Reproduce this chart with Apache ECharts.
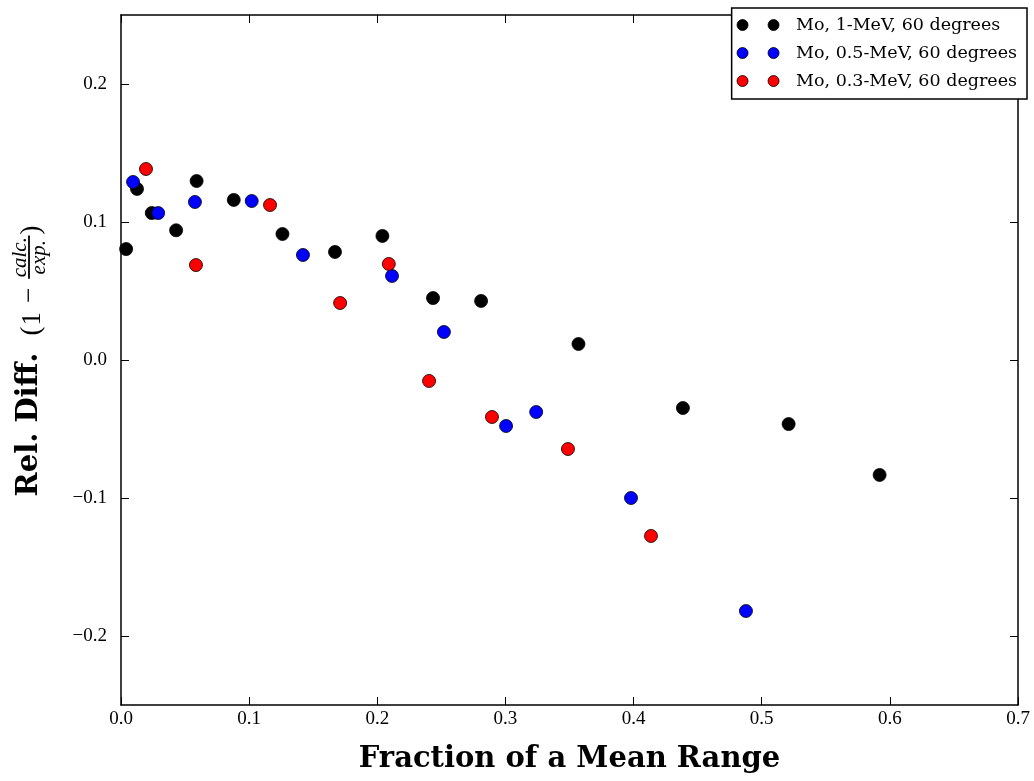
<!DOCTYPE html>
<html><head><meta charset="utf-8">
<script src="https://cdn.jsdelivr.net/npm/echarts@6/dist/echarts.min.js"></script>
<style>html,body{margin:0;padding:0;background:#fff}#c{width:1034px;height:781px}</style>
</head><body><div id="c"></div>
<script>
const seriesNames = ['Mo, 1-MeV, 60 degrees','Mo, 0.5-MeV, 60 degrees','Mo, 0.3-MeV, 60 degrees'];
const seriesColors = ['#000000','#0000ff','#ff0000'];
const x1MeV = [0.004,0.0125,0.024,0.043,0.059,0.088,0.126,0.167,0.204,0.2435,0.281,0.357,0.4385,0.521,0.592];
const y1MeV = [0.0804,0.124,0.1065,0.094,0.1297,0.116,0.0913,0.0783,0.0899,0.0449,0.0428,0.0116,-0.0348,-0.0464,-0.0833];
const x05MeV = [0.0094,0.029,0.0577,0.102,0.142,0.2115,0.252,0.3005,0.324,0.398,0.4877];
const y05MeV = [0.129,0.1065,0.1145,0.1152,0.0761,0.0609,0.0203,-0.0478,-0.0377,-0.1,-0.1819];
const x03MeV = [0.0195,0.0585,0.1163,0.171,0.209,0.2404,0.2895,0.3488,0.4136];
const y03MeV = [0.1384,0.0688,0.1123,0.0413,0.0696,-0.0152,-0.0413,-0.0645,-0.1275];
const xTicks = [0,0.1,0.2,0.3,0.4,0.5,0.6,0.7];
const yTicks = [-0.2,-0.1,0,0.1,0.2];
const xTitle = 'Fraction of a Mean Range';
const yTitleParts = ['Rel. Diff.', '(', '1', '\u2212', 'calc.', 'exp.', ')'];

const xs = [x1MeV,x05MeV,x03MeV], ys=[y1MeV,y05MeV,y03MeV];
const fmt = v => (Math.round(v*10)/10).toFixed(1).replace('-','\u2212');
const serif = '"Liberation Serif", "DejaVu Serif", serif';
const boldSerif = '"DejaVu Serif", serif';

// layout of the y-axis title (rotated group)
const ctx = document.createElement('canvas').getContext('2d');
function tw(t, f){ ctx.font = f; return ctx.measureText(t).width; }
const fB = 'bold 29px "DejaVu Serif"', fM = '27px "Liberation Serif"', fF = 'italic 21px "Liberation Serif"';
// [text, font, gapBefore, crossOffset]
const pieces = [
  [yTitleParts[0], fB, 0, 0],
  [yTitleParts[1], fM, 17, 3],
  [yTitleParts[2], fM, 1, 4],
  [yTitleParts[3], fM, 9, 1],
];
const kids = [];
let widths = pieces.map(p => tw(p[0], p[1]));
const wC = tw(yTitleParts[4], fF), wE = tw(yTitleParts[5], fF);
const wFr = Math.max(wC, wE) + 3;
const wP = tw(yTitleParts[6], fM);
const gFr = 9, gP = 1;
let total = 0;
pieces.forEach((p,i)=>{ total += p[2] + widths[i]; });
total += gFr + wFr + gP + wP;
let cx = -total/2;
pieces.forEach((p,i)=>{
  cx += p[2];
  kids.push({type:'text', x:cx, y:p[3], style:{text:p[0], font:p[1], fill:'#000', textAlign:'left', textVerticalAlign:'middle'}});
  cx += widths[i];
});
cx += gFr;
kids.push({type:'text', x:cx + wFr/2, y:-9, style:{text:yTitleParts[4], font:fF, fill:'#000', textAlign:'center', textVerticalAlign:'middle'}});
kids.push({type:'rect', shape:{x:cx, y:-0.9, width:wFr, height:1.8}, style:{fill:'#000'}});
kids.push({type:'text', x:cx + wFr/2, y:10, style:{text:yTitleParts[5], font:fF, fill:'#000', textAlign:'center', textVerticalAlign:'middle'}});
cx += wFr + gP;
kids.push({type:'text', x:cx, y:3, style:{text:yTitleParts[6], font:fM, fill:'#000', textAlign:'left', textVerticalAlign:'middle'}});

const line = {show:true,onZero:false,lineStyle:{color:'#000',width:1.5}};
const tick = {show:true,inside:true,length:8,lineStyle:{color:'#000'}};
const chart = echarts.init(document.getElementById('c'));
const icon = 'path://M0,5.5a5.5,5.5 0 1,0 11,0a5.5,5.5 0 1,0 -11,0Z M31,5.5a5.5,5.5 0 1,0 11,0a5.5,5.5 0 1,0 -11,0Z';
chart.setOption({
  animation:false,
  backgroundColor:'#fff',
  grid:{left:121,right:16,top:15,bottom:76,outerBoundsMode:'none',containLabel:false},
  graphic:[{type:'group', x:29, y:361, rotation:Math.PI/2, children:kids}],
  legend:{
    right:7, top:8, orient:'vertical', backgroundColor:'#fff', borderColor:'#000', borderWidth:1.5,
    padding:[8,10,9,5], itemGap:10, itemWidth:42, itemHeight:11, borderRadius:0,
    textStyle:{fontFamily:boldSerif,fontSize:17.5,color:'#000',padding:[0,0,0,12]},
    data: seriesNames.map((n,i)=>({name:n,icon:icon,itemStyle:{color:seriesColors[i],borderColor:'#000',borderWidth:0.8}}))
  },
  xAxis:[{
    type:'value', min:0, max:0.7, interval:0.1,
    axisLine:line, splitLine:{show:false}, axisTick:tick,
    axisLabel:{color:'#000',fontFamily:serif,fontSize:19,margin:5,formatter:fmt},
    name:xTitle, nameLocation:'middle', nameGap:40,
    nameTextStyle:{fontFamily:boldSerif,fontWeight:'bold',fontSize:29,color:'#000'}
  },{
    type:'value', min:0, max:0.7, interval:0.1, position:'top',
    axisLine:line, splitLine:{show:false}, axisTick:tick, axisLabel:{show:false}
  }],
  yAxis:[{
    type:'value', min:-0.25, max:0.25,
    axisLine:line, splitLine:{show:false},
    axisTick:Object.assign({customValues:yTicks}, tick),
    axisLabel:{color:'#000',fontFamily:serif,fontSize:19,margin:14,customValues:yTicks,formatter:fmt}
  },{
    type:'value', min:-0.25, max:0.25, position:'right',
    axisLine:line, splitLine:{show:false},
    axisTick:Object.assign({customValues:yTicks}, tick), axisLabel:{show:false}
  }],
  series: seriesNames.map((n,i)=>({
    name:n, type:'scatter', symbol:'circle', symbolSize:13,
    itemStyle:{color:seriesColors[i],borderColor:'#000',borderWidth:0.8,opacity:1},
    data: xs[i].map((x,j)=>[x,ys[i][j]])
  }))
});
</script></body></html>
